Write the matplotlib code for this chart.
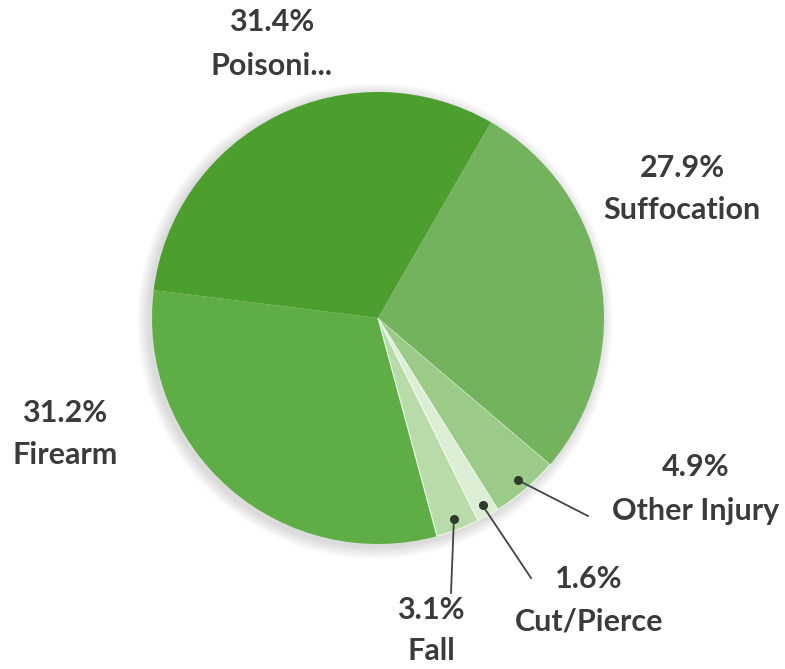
import numpy as np
import matplotlib.pyplot as plt

# Share of injury deaths by mechanism
labels = ["Poisoni...", "Firearm", "Fall", "Cut/Pierce", "Other Injury", "Suffocation"]
values = [31.4, 31.2, 3.1, 1.6, 4.9, 27.9]
pct_text = ["31.4%", "31.2%", "3.1%", "1.6%", "4.9%", "27.9%"]
colors = ["#4c9e2e", "#5fae45", "#b8dba9", "#dcefd5", "#9ccb89", "#73b35d"]

W, H = 785, 669
fig = plt.figure(figsize=(W / 100, H / 100), dpi=100)
ax = fig.add_axes([0, 0, 1, 1])

cx, cy, R = 378, H - 318, 226

# soft shadow around the pie
for i in range(12):
    ax.add_patch(plt.Circle((cx - 3, cy - 3), R + 12 - i, color="#000000",
                            alpha=0.012, lw=0, zorder=0))

wedges, _ = ax.pie(values, colors=colors, startangle=60, counterclock=True,
                   center=(cx, cy), radius=R,
                   wedgeprops=dict(linewidth=0))
# thin light seams only around the small slices
for w, v in zip(wedges, values):
    if v < 10:
        w.set_edgecolor("#eef6ea")
        w.set_linewidth(0.8)

ax.set_xlim(0, W)
ax.set_ylim(0, H)
ax.set_aspect("equal")
ax.axis("off")

tcol = "#3b3b3b"
font = dict(family=["Lato", "DejaVu Sans"], fontsize=22, fontweight="bold",
            color=tcol, ha="center", va="center")

# label centres (pixels from top-left): (x, y of pct, y of name)
label_pos = {
    "Poisoni...": (272, 22, 66),
    "Firearm": (65, 413, 455),
    "Fall": (431, 610, 651),
    "Cut/Pierce": (589, 579, 621),
    "Other Injury": (696, 467, 511),
    "Suffocation": (682, 168, 210),
}
# end points of leader lines for the small slices
leader_end = {
    "Fall": (451, 593),
    "Cut/Pierce": (531, 578),
    "Other Injury": (588, 516),
}

for w, lab, pt in zip(wedges, labels, pct_text):
    x, y1, y2 = label_pos[lab]
    ax.text(x, H - y1, pt, **font)
    ax.text(x, H - y2, lab, **font)
    if lab in leader_end:
        mid = np.deg2rad((w.theta1 + w.theta2) / 2)
        dx = cx + 0.95 * R * np.cos(mid)
        dy = cy + 0.95 * R * np.sin(mid)
        ex, ey = leader_end[lab]
        ax.plot([dx, ex], [dy, H - ey], color="#444444", lw=1.3, zorder=5)
        ax.plot(dx, dy, "o", color="#2f3a2c", ms=5.5, zorder=6)

fig.savefig("out.png", dpi=100, facecolor="white")
